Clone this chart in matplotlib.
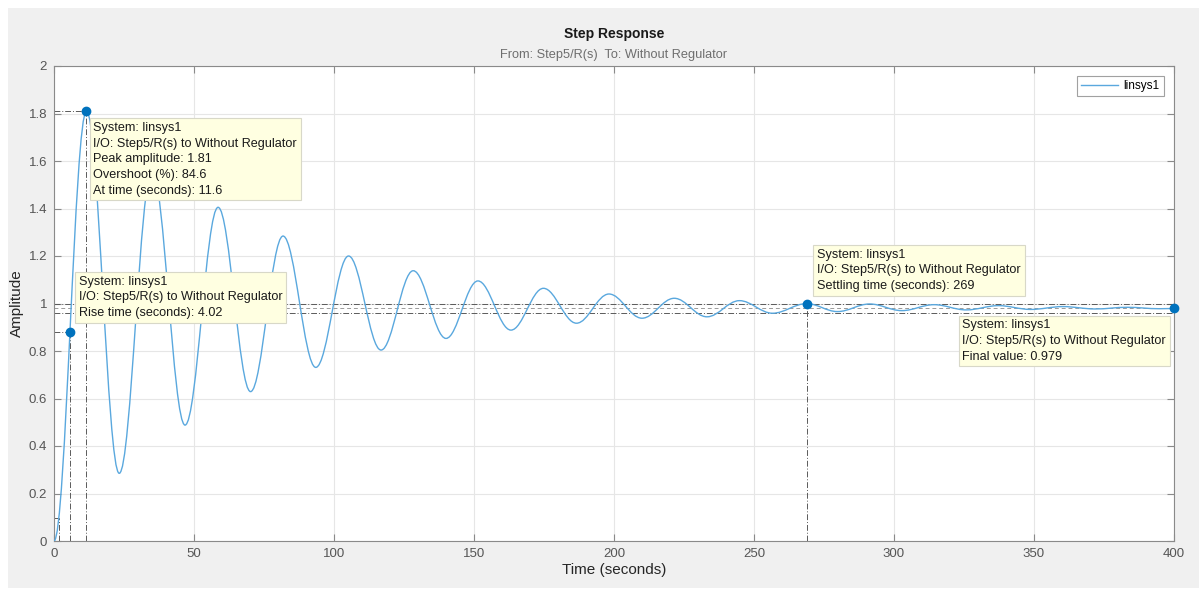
import matplotlib
matplotlib.use('Agg')
import matplotlib.pyplot as plt
from matplotlib.path import Path
from matplotlib.patches import PathPatch, Rectangle
from matplotlib.lines import Line2D
import numpy as np

plt.rcParams['font.family'] = ['Liberation Sans', 'DejaVu Sans']

# turning points of the step response (time in s, amplitude)
turn_t = [0.0, 11.6, 23.3, 35.0, 46.8, 58.6, 70.2, 81.8, 93.5, 105.2,
          116.8, 128.3, 140.0, 151.4, 163.2, 174.8, 186.6, 198.2, 210.0,
          221.5, 233.2, 244.8, 256.6, 268.8, 279.8, 291.3, 302.8, 314.3,
          325.8, 337.3, 348.8, 360.3, 371.8, 383.3, 394.8, 400.0]
turn_y = [0.0, 1.81, 0.285, 1.56, 0.488, 1.405, 0.629, 1.284, 0.731, 1.20,
          0.804, 1.138, 0.853, 1.095, 0.888, 1.064, 0.917, 1.040, 0.938,
          1.022, 0.944, 1.012, 0.959, 0.9995, 0.966, 0.998, 0.970, 0.995,
          0.973, 0.991, 0.975, 0.987, 0.977, 0.984, 0.978, 0.979]

# characteristics
peak_time, peak_amp, overshoot = 11.6, 1.81, 84.6
rise_time = 4.02
rise_end = 5.7
settle_time = 269
final_value = 0.979

x_ticks = [0, 50, 100, 150, 200, 250, 300, 350, 400]
y_ticks = [0, 0.2, 0.4, 0.6, 0.8, 1.0, 1.2, 1.4, 1.6, 1.8, 2.0]
y_ticklabels = ['0', '0.2', '0.4', '0.6', '0.8', '1', '1.2', '1.4', '1.6', '1.8', '2']

LINE = '#5aa8de'
DOT = '#0072bd'
REF = '#5a5a5a'
TIP_FC = '#ffffe1'
TIP_EC = '#d8d8c8'


def response_path(ts, ys, k=0.3642):
    # half-cosine shaped cubic segments between consecutive turning points
    verts = [(ts[0], ys[0])]
    codes = [Path.MOVETO]
    for i in range(len(ts) - 1):
        t0, t1, y0, y1 = ts[i], ts[i + 1], ys[i], ys[i + 1]
        dt = t1 - t0
        verts += [(t0 + k * dt, y0), (t1 - k * dt, y1), (t1, y1)]
        codes += [Path.CURVE4] * 3
    return Path(verts, codes)


fig = plt.figure(figsize=(11.99, 5.92), dpi=100, facecolor='white')
fig.patches.append(Rectangle((8 / 1199, 4 / 592), 1 - 8 / 1199, 1 - 12 / 592,
                             transform=fig.transFigure, fc='#f0f0f0', ec='none', zorder=-10))
ax = fig.add_axes([54 / 1199, 1 - 541 / 592, 1120 / 1199, 475 / 592])
ax.set_facecolor('white')
ax.set_xlim(0, 400)
ax.set_ylim(0, 2)

ax.add_patch(PathPatch(response_path(turn_t, turn_y), fill=False, ec=LINE, lw=1.0, zorder=3))

# reference lines for the characteristics
dd = dict(color=REF, lw=0.7, ls=(0, (6, 2, 1, 2)), zorder=2)
ax.plot([0, 400], [final_value * 1.02] * 2, **dd)
ax.plot([0, 400], [final_value * 0.98] * 2, **dd)
ax.plot([0, 400], [final_value] * 2, color='#9a9a9a', lw=0.7, ls=(0, (4, 3)), zorder=2)
ax.plot([settle_time] * 2, [0, final_value * 1.02], **dd)
ax.plot([0, peak_time], [peak_amp] * 2, **dd)
ax.plot([peak_time] * 2, [0, peak_amp], **dd)
rise_start = rise_end - rise_time
ax.plot([rise_start] * 2, [0, 0.1 * final_value], **dd)
ax.plot([0, rise_start], [0.1 * final_value] * 2, **dd)
ax.plot([rise_end] * 2, [0, 0.9 * final_value], **dd)
ax.plot([0, rise_end], [0.9 * final_value] * 2, **dd)

pts_x = [rise_end, peak_time, settle_time, 400]
pts_y = [0.9 * final_value, peak_amp, final_value * 1.02, final_value]
ax.plot(pts_x, pts_y, 'o', color=DOT, ms=6, zorder=5, clip_on=False)

tip = dict(textcoords='offset pixels', fontsize=9.1, linespacing=1.4, color='#1a1a1a',
           zorder=6, multialignment='left',
           bbox=dict(boxstyle='square,pad=0.3', fc=TIP_FC, ec=TIP_EC, lw=0.8))
ax.annotate('System: linsys1\nI/O: Step5/R(s) to Without Regulator\n'
            f'Peak amplitude: {peak_amp}\nOvershoot (%): {overshoot}\n'
            f'At time (seconds): {peak_time}',
            xy=(peak_time, peak_amp), xytext=(7, -11), ha='left', va='top', **tip)
ax.annotate('System: linsys1\nI/O: Step5/R(s) to Without Regulator\n'
            f'Rise time (seconds): {rise_time}',
            xy=(rise_end, 0.9 * final_value), xytext=(9, 56), ha='left', va='top', **tip)
ax.annotate('System: linsys1\nI/O: Step5/R(s) to Without Regulator\n'
            f'Settling time (seconds): {settle_time}',
            xy=(settle_time, final_value * 1.02), xytext=(10, 55), ha='left', va='top', **tip)
ax.annotate('System: linsys1\nI/O: Step5/R(s) to Without Regulator\n'
            f'Final value: {final_value}',
            xy=(400, final_value), xytext=(-8, -11), ha='right', va='top', **tip)

ax.set_xticks(x_ticks)
ax.set_yticks(y_ticks)
ax.set_yticklabels(y_ticklabels)
ax.grid(True, color='#e6e6e6', lw=0.8, zorder=0)
ax.set_axisbelow(True)
ax.tick_params(direction='in', top=True, right=True, length=5, width=0.8,
               colors='#8a8a8a', labelcolor='#555555', labelsize=9.5, pad=5)
for sp in ax.spines.values():
    sp.set_color('#8a8a8a')
    sp.set_linewidth(0.8)

ax.set_xlabel('Time (seconds)', fontsize=11, color='#262626', labelpad=2)
ax.set_ylabel('Amplitude', fontsize=11, color='#262626', labelpad=3)
fig.text(614 / 1199, 1 - 34 / 592, 'Step Response', ha='center', va='center',
         fontsize=10, fontweight='bold', color='#1a1a1a')
fig.text(614 / 1199, 1 - 55 / 592, 'From: Step5/R(s)  To: Without Regulator', ha='center',
         va='center', fontsize=9.2, color='#6e6e6e')

leg = ax.legend([Line2D([], [], color=LINE, lw=1.0)], ['linsys1'], loc='upper right',
                fontsize=8.5, frameon=True, fancybox=False, handlelength=3.1,
                handletextpad=0.5, borderpad=0.35, borderaxespad=0.85)
leg.get_frame().set_edgecolor('#8a8a8a')
leg.get_frame().set_linewidth(0.8)

fig.savefig('out.png', dpi=100)
